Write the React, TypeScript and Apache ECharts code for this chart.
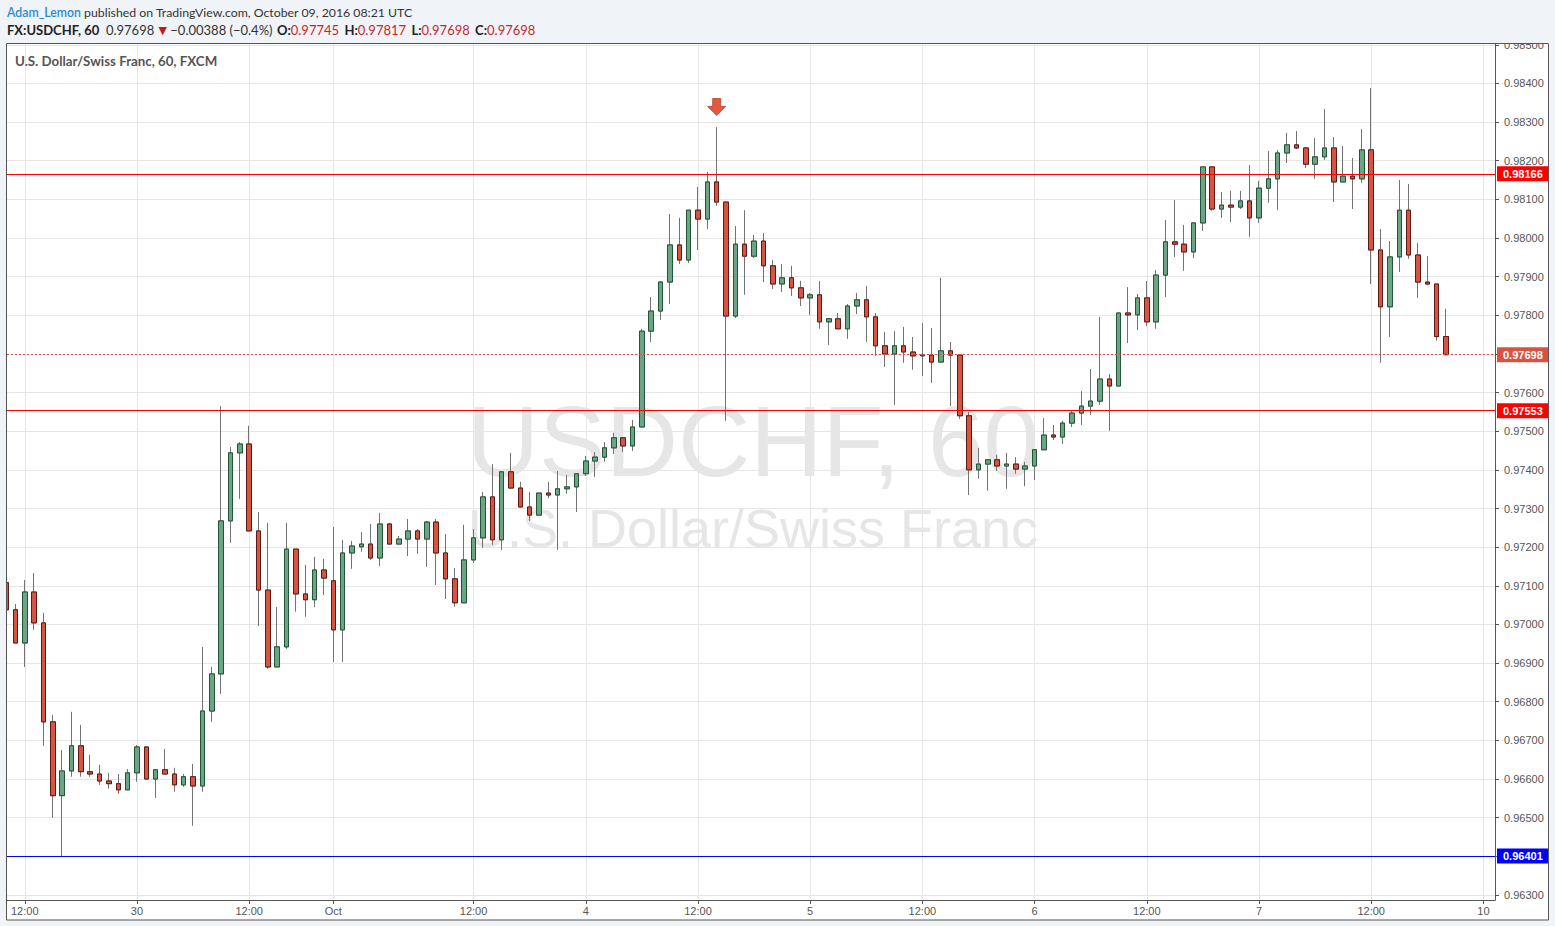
import React, { useEffect, useRef } from "react";
import * as echarts from "echarts";

// hourly bars, index 0 = Sep 30 00:00 UTC; first visible bar is index -14
const firstBarIndex = -14;

const opens = [
  0.97108, 0.97038, 0.96952, 0.97084, 0.97004, 0.96748, 0.96557, 0.96621, 0.96686, 0.96619,
  0.96613, 0.96595, 0.96588, 0.96572, 0.96616, 0.96683, 0.96600, 0.96624, 0.96613, 0.96585,
  0.96606, 0.96582, 0.96776, 0.96872, 0.97268, 0.97444, 0.97467, 0.97242, 0.97089, 0.96890,
  0.96942, 0.97195, 0.97079, 0.97064, 0.97141, 0.97113, 0.96986, 0.97185, 0.97201, 0.97208,
  0.97172, 0.97260, 0.97208, 0.97221, 0.97242, 0.97221, 0.97265, 0.97185, 0.97118, 0.97056,
  0.97167, 0.97224, 0.97330, 0.97219, 0.97395, 0.97353, 0.97304, 0.97283, 0.97340, 0.97335,
  0.97351, 0.97356, 0.97390, 0.97423, 0.97433, 0.97457, 0.97483, 0.97462, 0.97511, 0.97759,
  0.97811, 0.97886, 0.97982, 0.97943, 0.98072, 0.98049, 0.98145, 0.98093, 0.97798, 0.97984,
  0.97953, 0.97992, 0.97928, 0.97881, 0.97897, 0.97871, 0.97845, 0.97853, 0.97783, 0.97791,
  0.97765, 0.97824, 0.97840, 0.97796, 0.97721, 0.97700, 0.97721, 0.97705, 0.97695, 0.97697,
  0.97679, 0.97708, 0.97697, 0.97540, 0.97400, 0.97415, 0.97426, 0.97410, 0.97415, 0.97402,
  0.97410, 0.97452, 0.97490, 0.97485, 0.97521, 0.97547, 0.97565, 0.97578, 0.97635, 0.97617,
  0.97806, 0.97801, 0.97845, 0.97783, 0.97904, 0.97990, 0.97984, 0.97964, 0.98039, 0.98184,
  0.98075, 0.98085, 0.98080, 0.98096, 0.98052, 0.98129, 0.98153, 0.98220, 0.98241, 0.98233,
  0.98191, 0.98210, 0.98233, 0.98145, 0.98160, 0.98153, 0.98228, 0.97969, 0.97822, 0.97951,
  0.98072, 0.97956, 0.97886, 0.97881, 0.97745,
];

const closes = [
  0.97038, 0.96952, 0.97084, 0.97004, 0.96748, 0.96557, 0.96621, 0.96686, 0.96619, 0.96613,
  0.96595, 0.96588, 0.96572, 0.96616, 0.96683, 0.96600, 0.96624, 0.96613, 0.96585, 0.96606,
  0.96582, 0.96776, 0.96872, 0.97268, 0.97444, 0.97467, 0.97242, 0.97089, 0.96890, 0.96942,
  0.97195, 0.97079, 0.97064, 0.97141, 0.97120, 0.96986, 0.97185, 0.97203, 0.97208, 0.97172,
  0.97260, 0.97208, 0.97221, 0.97242, 0.97221, 0.97265, 0.97185, 0.97118, 0.97056, 0.97167,
  0.97224, 0.97330, 0.97219, 0.97395, 0.97353, 0.97304, 0.97283, 0.97340, 0.97335, 0.97351,
  0.97356, 0.97390, 0.97423, 0.97433, 0.97457, 0.97483, 0.97462, 0.97511, 0.97759, 0.97811,
  0.97886, 0.97982, 0.97943, 0.98072, 0.98049, 0.98145, 0.98093, 0.97798, 0.97984, 0.97953,
  0.97992, 0.97928, 0.97881, 0.97897, 0.97871, 0.97845, 0.97853, 0.97783, 0.97791, 0.97765,
  0.97824, 0.97840, 0.97796, 0.97721, 0.97700, 0.97721, 0.97705, 0.97695, 0.97697, 0.97679,
  0.97708, 0.97697, 0.97540, 0.97400, 0.97415, 0.97426, 0.97410, 0.97415, 0.97402, 0.97410,
  0.97452, 0.97490, 0.97485, 0.97521, 0.97547, 0.97565, 0.97578, 0.97635, 0.97617, 0.97806,
  0.97801, 0.97845, 0.97783, 0.97904, 0.97990, 0.97984, 0.97964, 0.98039, 0.98184, 0.98075,
  0.98085, 0.98080, 0.98096, 0.98052, 0.98129, 0.98153, 0.98220, 0.98241, 0.98233, 0.98191,
  0.98210, 0.98233, 0.98145, 0.98160, 0.98153, 0.98228, 0.97969, 0.97822, 0.97951, 0.98072,
  0.97956, 0.97886, 0.97881, 0.97745, 0.97698,
];

const lows = [
  0.97033, 0.96952, 0.96890, 0.96986, 0.96686, 0.96500, 0.96401, 0.96606, 0.96606, 0.96606,
  0.96585, 0.96575, 0.96562, 0.96572, 0.96593, 0.96600, 0.96551, 0.96613, 0.96567, 0.96580,
  0.96479, 0.96567, 0.96748, 0.96820, 0.97211, 0.97325, 0.97242, 0.96996, 0.96885, 0.96890,
  0.96937, 0.97033, 0.97020, 0.97045, 0.97076, 0.96903, 0.96903, 0.97144, 0.97188, 0.97167,
  0.97151, 0.97208, 0.97208, 0.97177, 0.97183, 0.97149, 0.97102, 0.97066, 0.97045, 0.97056,
  0.97159, 0.97198, 0.97206, 0.97193, 0.97351, 0.97304, 0.97268, 0.97283, 0.97327, 0.97193,
  0.97338, 0.97291, 0.97384, 0.97382, 0.97421, 0.97441, 0.97446, 0.97449, 0.97511, 0.97731,
  0.97788, 0.97829, 0.97933, 0.97935, 0.97969, 0.98023, 0.98083, 0.97527, 0.97793, 0.97853,
  0.97948, 0.97886, 0.97868, 0.97860, 0.97850, 0.97824, 0.97801, 0.97765, 0.97723, 0.97765,
  0.97739, 0.97803, 0.97731, 0.97695, 0.97666, 0.97568, 0.97677, 0.97659, 0.97643, 0.97625,
  0.97679, 0.97565, 0.97532, 0.97335, 0.97377, 0.97346, 0.97397, 0.97351, 0.97390, 0.97358,
  0.97374, 0.97452, 0.97477, 0.97467, 0.97511, 0.97516, 0.97542, 0.97568, 0.97501, 0.97617,
  0.97728, 0.97762, 0.97772, 0.97765, 0.97847, 0.97951, 0.97915, 0.97948, 0.98018, 0.98070,
  0.98052, 0.98041, 0.98075, 0.98003, 0.98039, 0.98091, 0.98072, 0.98194, 0.98230, 0.98181,
  0.98153, 0.98202, 0.98093, 0.98145, 0.98075, 0.98142, 0.97881, 0.97677, 0.97744, 0.97912,
  0.97946, 0.97845, 0.97878, 0.97734, 0.97698,
];

const highs = [
  0.97115, 0.97053, 0.97115, 0.97133, 0.97030, 0.96766, 0.96675, 0.96774, 0.96740, 0.96663,
  0.96637, 0.96616, 0.96613, 0.96626, 0.96688, 0.96683, 0.96626, 0.96678, 0.96629, 0.96613,
  0.96639, 0.96942, 0.96890, 0.97565, 0.97459, 0.97472, 0.97514, 0.97291, 0.97263, 0.97045,
  0.97263, 0.97195, 0.97154, 0.97175, 0.97170, 0.97252, 0.97219, 0.97216, 0.97239, 0.97260,
  0.97289, 0.97263, 0.97229, 0.97273, 0.97247, 0.97268, 0.97273, 0.97234, 0.97146, 0.97258,
  0.97247, 0.97343, 0.97415, 0.97397, 0.97444, 0.97369, 0.97343, 0.97340, 0.97369, 0.97397,
  0.97387, 0.97390, 0.97436, 0.97446, 0.97472, 0.97496, 0.97483, 0.97529, 0.97765, 0.97847,
  0.97889, 0.98062, 0.98052, 0.98072, 0.98132, 0.98171, 0.98287, 0.98093, 0.98031, 0.98072,
  0.98008, 0.98013, 0.97943, 0.97933, 0.97928, 0.97889, 0.97858, 0.97889, 0.97793, 0.97806,
  0.97829, 0.97858, 0.97876, 0.97806, 0.97757, 0.97759, 0.97770, 0.97744, 0.97780, 0.97767,
  0.97897, 0.97731, 0.97697, 0.97550, 0.97457, 0.97426, 0.97439, 0.97444, 0.97433, 0.97421,
  0.97452, 0.97534, 0.97516, 0.97527, 0.97555, 0.97604, 0.97661, 0.97796, 0.97648, 0.97806,
  0.97873, 0.97855, 0.97889, 0.97917, 0.98047, 0.98098, 0.98034, 0.98039, 0.98184, 0.98184,
  0.98119, 0.98122, 0.98122, 0.98189, 0.98148, 0.98225, 0.98228, 0.98272, 0.98277, 0.98235,
  0.98259, 0.98334, 0.98261, 0.98238, 0.98207, 0.98282, 0.98388, 0.98023, 0.97992, 0.98150,
  0.98140, 0.97987, 0.97953, 0.97881, 0.97817,
];

const timeTickIndex = [-12, 0, 12, 21, 36, 48, 60, 72, 84, 96, 108, 120, 132, 144];
const timeTickLabels = ["12:00", "30", "12:00", "Oct", "12:00", "4", "12:00", "5", "12:00", "6", "12:00", "7", "12:00", "10"];

const priceTicks = [
  0.963, 0.964, 0.965, 0.966, 0.967, 0.968, 0.969, 0.97, 0.971, 0.972, 0.973, 0.974,
  0.975, 0.976, 0.977, 0.978, 0.979, 0.98, 0.981, 0.982, 0.983, 0.984, 0.985,
];

const levelResistance = 0.98166;
const levelSupport = 0.97553;
const levelLow = 0.96401;
const lastPrice = 0.97698;
const signalArrow = { index: 62, price: 0.98339 };

const xRange = { min: -13.9, max: 145.24 };
const yRange = { min: 0.96287, max: 0.98502 };

const FONT = "Liberation Sans, Arial, sans-serif";
const HFONT = "Lato, Liberation Sans, sans-serif";
const BG = "#f0f3f7";

function buildOption() {
  const wickData = opens.map((o, i) => [firstBarIndex + i, o, closes[i], lows[i], highs[i]]);
  const bodyData = opens.map((o, i) => [
    firstBarIndex + i,
    o,
    closes[i],
    Math.min(o, closes[i]),
    Math.max(o, closes[i]),
  ]);
  const labelFor = (v: number) => {
    const k = timeTickIndex.findIndex((t) => Math.abs(t - v) < 1e-6);
    return k >= 0 ? timeTickLabels[k] : "";
  };
  const levelLine = (value: number, color: string, type: any) => ({
    yAxis: value,
    lineStyle: { color, width: 1, type },
    label: {
      show: true,
      position: "end",
      distance: 2,
      formatter: value.toFixed(5),
      color: "#ffffff",
      fontFamily: FONT,
      fontWeight: "bold",
      fontSize: 11,
      lineHeight: 13,
      backgroundColor: color,
      padding: [1, 7, 1, 6],
    },
  });

  return {
    animation: false,
    backgroundColor: "#ffffff",
    grid: { left: 7, top: 44, right: 60, bottom: 26, containLabel: false },
    xAxis: {
      type: "value",
      min: xRange.min,
      max: xRange.max,
      axisLine: { show: true, onZero: false, lineStyle: { color: "#555555", width: 1 } },
      axisTick: { show: true, customValues: timeTickIndex, length: 4, lineStyle: { color: "#555555" } },
      axisLabel: {
        customValues: timeTickIndex,
        formatter: labelFor,
        color: "#555555",
        fontFamily: FONT,
        fontSize: 11,
        margin: 5,
      },
      splitLine: { show: true, lineStyle: { color: "#e6e6e6", width: 1 } },
    },
    yAxis: {
      type: "value",
      position: "right",
      min: yRange.min,
      max: yRange.max,
      axisLine: { show: true, onZero: false, lineStyle: { color: "#555555", width: 1 } },
      axisTick: { show: true, customValues: priceTicks, length: 4, lineStyle: { color: "#555555" } },
      axisLabel: {
        customValues: priceTicks,
        formatter: (v: number) => v.toFixed(5),
        color: "#555555",
        fontFamily: FONT,
        fontSize: 11,
        margin: 9,
      },
      splitLine: { show: true, lineStyle: { color: "#e6e6e6", width: 1 } },
    },
    series: [
      {
        type: "candlestick",
        name: "wick",
        data: wickData,
        barWidth: 5,
        clip: true,
        z: 2,
        itemStyle: {
          color: "#737375",
          color0: "#737375",
          borderColor: "#737375",
          borderColor0: "#737375",
          borderWidth: 1,
        },
      },
      {
        type: "candlestick",
        name: "body",
        data: bodyData,
        barWidth: 5,
        clip: true,
        z: 3,
        itemStyle: {
          color: "#6ba583",
          color0: "#d75442",
          borderColor: "#225437",
          borderColor0: "#5b1a13",
          borderWidth: 1,
        },
        markLine: {
          silent: true,
          symbol: ["none", "none"],
          animation: false,
          precision: 5,
          data: [
            levelLine(levelResistance, "#ff0000", "solid"),
            levelLine(lastPrice, "#d75442", [2, 2]),
            levelLine(levelSupport, "#ff0000", "solid"),
            levelLine(levelLow, "#0000ff", "solid"),
          ],
        },
        markPoint: {
          silent: true,
          animation: false,
          symbol: "path://M5,0 L13,0 L13,8 L18,8 L9,17 L0,8 L5,8 Z",
          symbolSize: [18, 17],
          label: { show: false },
          itemStyle: { color: "#e5573f", borderColor: "#b8402c", borderWidth: 0.8 },
          data: [{ coord: [signalArrow.index, signalArrow.price] }],
        },
      },
    ],
    graphic: {
      elements: [
        { type: "text", x: 753, y: 441, z: 0, silent: true, style: { text: "USDCHF, 60", fill: "#e6e6e6", fontFamily: FONT, fontSize: 100, align: "center", verticalAlign: "middle" } },
        { type: "text", x: 753, y: 528, z: 0, silent: true, style: { text: "U.S. Dollar/Swiss Franc", fill: "#e6e6e6", fontFamily: FONT, fontSize: 54, align: "center", verticalAlign: "middle" } },
        { type: "text", x: 15, y: 61, z: 60, silent: true, style: { text: "U.S. Dollar/Swiss Franc, 60, FXCM", fill: "#555555", fontFamily: HFONT, fontWeight: "bold", fontSize: 13.3, verticalAlign: "middle" } },
        { type: "rect", z: 50, silent: true, shape: { x: 0, y: 0, width: 1555, height: 43 }, style: { fill: BG } },
        { type: "rect", z: 50, silent: true, shape: { x: 0, y: 0, width: 6, height: 926 }, style: { fill: BG } },
        { type: "rect", z: 50, silent: true, shape: { x: 1549, y: 0, width: 6, height: 926 }, style: { fill: BG } },
        { type: "rect", z: 50, silent: true, shape: { x: 0, y: 920, width: 1555, height: 6 }, style: { fill: BG } },
        { type: "rect", z: 51, silent: true, shape: { x: 6.5, y: 43.5, width: 1542, height: 876.5 }, style: { fill: "none", stroke: "#555555", lineWidth: 1 } },
        {
          type: "text", x: 7, y: 12, z: 60, silent: true,
          style: {
            text: "{a|Adam_Lemon} {b|published on TradingView.com, October 09, 2016 08:21 UTC}",
            fontFamily: HFONT, fontSize: 12.3, verticalAlign: "middle",
            rich: {
              a: { fill: "#2a8bd2", fontFamily: HFONT, fontSize: 12.3, fontWeight: 600 },
              b: { fill: "#333333", fontFamily: HFONT, fontSize: 12.3 },
            },
          },
        },
        {
          type: "text", x: 7, y: 30, z: 60, silent: true,
          style: {
            text: "{k|FX:USDCHF, 60}  {n|0.97698} {t|▼} {n|−0.00388 (−0.4%)} {k|O:}{r|0.97745} {k|H:}{r|0.97817} {k|L:}{r|0.97698} {k|C:}{r|0.97698}",
            fontFamily: HFONT, fontSize: 13, verticalAlign: "middle",
            rich: {
              k: { fill: "#222222", fontFamily: HFONT, fontSize: 13, fontWeight: "bold" },
              n: { fill: "#333333", fontFamily: HFONT, fontSize: 13, padding: [0, 1, 0, 0] },
              t: { fill: "#c41a1a", fontFamily: "DejaVu Sans", fontSize: 11 },
              r: { fill: "#c62828", fontFamily: HFONT, fontSize: 13, padding: [0, 2, 0, 0] },
            },
          },
        },
      ],
    },
  };
}

export default function App() {
  const ref = useRef<HTMLDivElement>(null);
  useEffect(() => {
    if (!ref.current) return;
    const chart = echarts.init(ref.current, null, { renderer: "svg" });
    chart.setOption(buildOption() as any);
    return () => chart.dispose();
  }, []);
  return <div ref={ref} style={{ position: "fixed", left: 0, top: 0, width: 1555, height: 926 }} />;
}
